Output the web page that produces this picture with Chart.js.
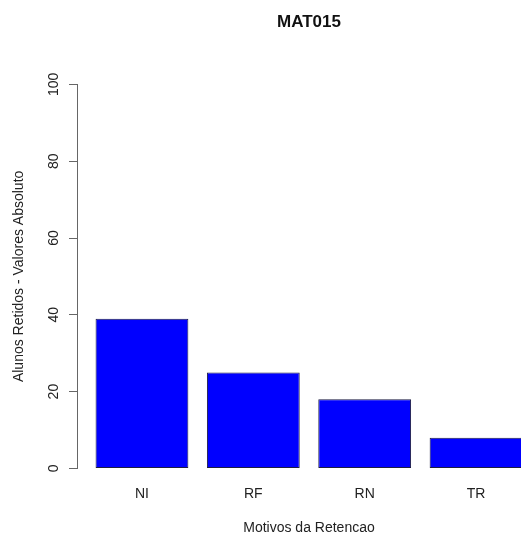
<!DOCTYPE html>
<html>
<head>
<meta charset="utf-8">
<script src="https://cdn.jsdelivr.net/npm/chart.js@4"></script>
<style>
html, body { margin: 0; padding: 0; overflow: hidden; background: #fff; }
</style>
</head>
<body>
<canvas id="retChart" width="560" height="533"></canvas>
<script>
// dados do grafico
var motivos = ["NI", "RF", "RN", "TR"];
var alunosRetidos = [39, 25, 18, 8];
var yTicks = [0, 20, 40, 60, 80, 100];

var fonte = "'Liberation Sans', Arial, sans-serif";

var barData = motivos.map(function (m, i) {
    return { x: i, y: alunosRetidos[i] };
});

var retCanvas = document.getElementById("retChart");

var retChart = new Chart(retCanvas, {
    type: 'bar',
    data: {
        datasets: [{
            label: "Alunos Retidos",
            data: barData,
            backgroundColor: "#0000ff",
            borderColor: "#1c1c40",
            borderWidth: 1,
            borderSkipped: false,
            barPercentage: 0.8333,
            categoryPercentage: 1
        }]
    },
    options: {
        responsive: false,
        animation: false,
        layout: { padding: { left: 0, right: 19, top: 0, bottom: -4 } },
        plugins: {
            legend: { display: false },
            tooltip: { enabled: false },
            title: {
                display: true,
                text: "MAT015",
                fullSize: false,
                color: "#111",
                font: { family: fonte, size: 17, weight: 'bold' },
                padding: { top: 12, bottom: 52 }
            }
        },
        scales: {
            x: {
                type: 'linear',
                offset: false,
                min: -7 / 12,
                max: 43 / 12,
                grid: { display: false, drawTicks: false, offset: false },
                border: { display: false },
                afterBuildTicks: function (scale) {
                    scale.ticks = motivos.map(function (m, i) { return { value: i }; });
                },
                ticks: {
                    padding: 17,
                    color: "#222",
                    font: { family: fonte, size: 14 },
                    callback: function (v) { return motivos[v]; }
                },
                title: {
                    display: true,
                    text: "Motivos da Retencao",
                    color: "#222",
                    font: { family: fonte, size: 14 },
                    padding: { top: 1, bottom: 0 }
                }
            },
            y: {
                min: 0,
                max: 100,
                afterBuildTicks: function (scale) {
                    scale.ticks = yTicks.map(function (v) { return { value: v }; });
                },
                afterFit: function (scale) { scale.width = 77; },
                grid: { drawOnChartArea: false, tickLength: 8, color: "#666" },
                border: { color: "#666" },
                ticks: {
                    minRotation: 90,
                    maxRotation: 90,
                    crossAlign: 'center',
                    padding: 3,
                    color: "#222",
                    font: { family: fonte, size: 14 }
                },
                title: {
                    display: true,
                    text: "Alunos Retidos - Valores Absoluto",
                    color: "#222",
                    font: { family: fonte, size: 14 },
                    padding: { top: 11, bottom: 0 }
                }
            }
        }
    }
});
</script>
</body>
</html>
